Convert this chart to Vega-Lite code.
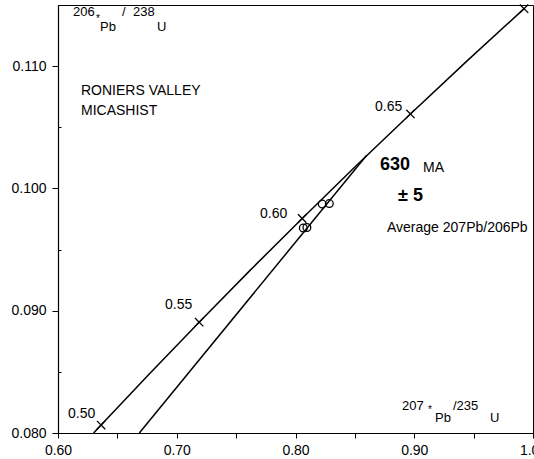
{
  "$schema": "https://vega.github.io/schema/vega-lite/v6.json",
  "width": 475,
  "height": 428,
  "autosize": {"type": "none"},
  "padding": {"left": 58, "top": 5, "right": 1, "bottom": 26},
  "background": "white",
  "config": {
    "view": {"stroke": "black", "strokeWidth": 1},
    "font": "Liberation Sans",
    "axis": {"labelFont": "Liberation Sans", "labelFontSize": 14, "labelColor": "black", "domainColor": "black", "tickColor": "black", "grid": false, "title": null}
  },
  "datasets": {
    "concordia": [
      {"t": 496.1, "x": 0.63000, "y": 0.08000},
      {"t": 500, "x": 0.63628, "y": 0.08065},
      {"t": 525, "x": 0.67707, "y": 0.08485},
      {"t": 550, "x": 0.71887, "y": 0.08906},
      {"t": 575, "x": 0.76172, "y": 0.09330},
      {"t": 600, "x": 0.80563, "y": 0.09754},
      {"t": 625, "x": 0.85064, "y": 0.10181},
      {"t": 650, "x": 0.89677, "y": 0.10609},
      {"t": 675, "x": 0.94405, "y": 0.11039},
      {"t": 700, "x": 0.99248, "y": 0.11470}
    ],
    "ageticks": [
      {"t": 500, "x": 0.63628, "y": 0.08065},
      {"t": 550, "x": 0.71887, "y": 0.08906},
      {"t": 600, "x": 0.80563, "y": 0.09754},
      {"t": 650, "x": 0.89677, "y": 0.10609},
      {"t": 700, "x": 0.99248, "y": 0.11470}
    ],
    "discordia": [
      {"x": 0.6685, "y": 0.0800},
      {"x": 0.8598, "y": 0.1027}
    ],
    "samples": [
      {"x": 0.8066, "y": 0.09676},
      {"x": 0.8096, "y": 0.09680},
      {"x": 0.8225, "y": 0.09872},
      {"x": 0.8285, "y": 0.09876}
    ],
    "ratio": [
      {"label": "206", "x": 0.61263, "y": 0.11443},
      {"label": "Pb", "x": 0.63537, "y": 0.11320},
      {"label": "/", "x": 0.65389, "y": 0.11443},
      {"label": "238", "x": 0.66316, "y": 0.11443},
      {"label": "U", "x": 0.68337, "y": 0.11320},
      {"label": "207", "x": 0.88968, "y": 0.08221},
      {"label": "Pb", "x": 0.91747, "y": 0.08123},
      {"label": "/235", "x": 0.93263, "y": 0.08221},
      {"label": "U", "x": 0.96379, "y": 0.08123}
    ],
    "labels": [
      {"label": "RONIERS  VALLEY", "x": 0.61937, "y": 0.10797},
      {"label": "MICASHIST", "x": 0.61937, "y": 0.10633},
      {"label": "0.65", "x": 0.86695, "y": 0.10666},
      {"label": "0.60", "x": 0.77011, "y": 0.09787},
      {"label": "0.55", "x": 0.69011, "y": 0.09043},
      {"label": "0.50", "x": 0.60842, "y": 0.08155},
      {"label": "MA", "x": 0.90737, "y": 0.10171},
      {"label": "Average 207Pb/206Pb", "x": 0.87705, "y": 0.09676}
    ],
    "stars": [
      {"label": "*", "x": 0.63200, "y": 0.11385},
      {"label": "*", "x": 0.91158, "y": 0.08188}
    ],
    "bold": [
      {"label": "630", "x": 0.87116, "y": 0.10192},
      {"label": "± 5", "x": 0.88632, "y": 0.09938}
    ]
  },
  "encoding": {
    "x": {
      "field": "x", "type": "quantitative",
      "scale": {"domain": [0.6, 1.0], "nice": false, "zero": false},
      "axis": {
        "values": [0.6, 0.65, 0.7, 0.75, 0.8, 0.85, 0.9, 0.95, 1.0],
        "labelExpr": "round(datum.value*20) % 2 == 1 ? '' : format(datum.value, '.2f')",
        "tickSize": 5, "labelPadding": 5, "labelFlush": false, "labelOverlap": false, "domainWidth": 1.2
      }
    },
    "y": {
      "field": "y", "type": "quantitative",
      "scale": {"domain": [0.08, 0.115], "nice": false, "zero": false},
      "axis": {
        "values": [0.08, 0.085, 0.09, 0.095, 0.1, 0.105, 0.11],
        "labelExpr": "round(datum.value*200) % 2 == 1 ? '' : format(datum.value, '.3f')",
        "tickSize": {"condition": {"test": "round(datum.value*200) % 2 == 1", "value": -3}, "value": 6},
        "labelPadding": 6, "labelFlush": false, "labelOverlap": false, "domainWidth": 1.2
      }
    }
  },
  "layer": [
    {
      "data": {"name": "concordia"},
      "mark": {"type": "line", "color": "black", "strokeWidth": 1.5, "clip": true},
      "encoding": {"order": {"field": "t", "type": "quantitative"}}
    },
    {
      "data": {"name": "discordia"},
      "mark": {"type": "line", "color": "black", "strokeWidth": 1.5, "clip": true},
      "encoding": {}
    },
    {
      "data": {"name": "ageticks"},
      "mark": {"type": "point", "shape": "M-1,-1L1,1M-1,1L1,-1", "size": 70, "filled": false, "stroke": "black", "strokeWidth": 1.3, "opacity": 1}
    },
    {
      "data": {"name": "samples"},
      "mark": {"type": "point", "shape": "circle", "size": 60, "filled": false, "fill": "white", "fillOpacity": 0, "stroke": "black", "strokeWidth": 1.3, "opacity": 1}
    },
    {
      "data": {"name": "ratio"},
      "mark": {"type": "text", "align": "left", "baseline": "middle", "font": "Liberation Sans", "fontSize": 13, "color": "black"},
      "encoding": {"text": {"field": "label"}}
    },
    {
      "data": {"name": "labels"},
      "mark": {"type": "text", "align": "left", "baseline": "middle", "font": "Liberation Sans", "fontSize": 14, "color": "black"},
      "encoding": {"text": {"field": "label"}}
    },
    {
      "data": {"name": "stars"},
      "mark": {"type": "text", "align": "left", "baseline": "middle", "font": "Liberation Sans", "fontSize": 10, "color": "black"},
      "encoding": {"text": {"field": "label"}}
    },
    {
      "data": {"name": "bold"},
      "mark": {"type": "text", "align": "left", "baseline": "middle", "font": "Liberation Sans", "fontSize": 18, "fontWeight": "bold", "color": "black"},
      "encoding": {"text": {"field": "label"}}
    }
  ]
}
